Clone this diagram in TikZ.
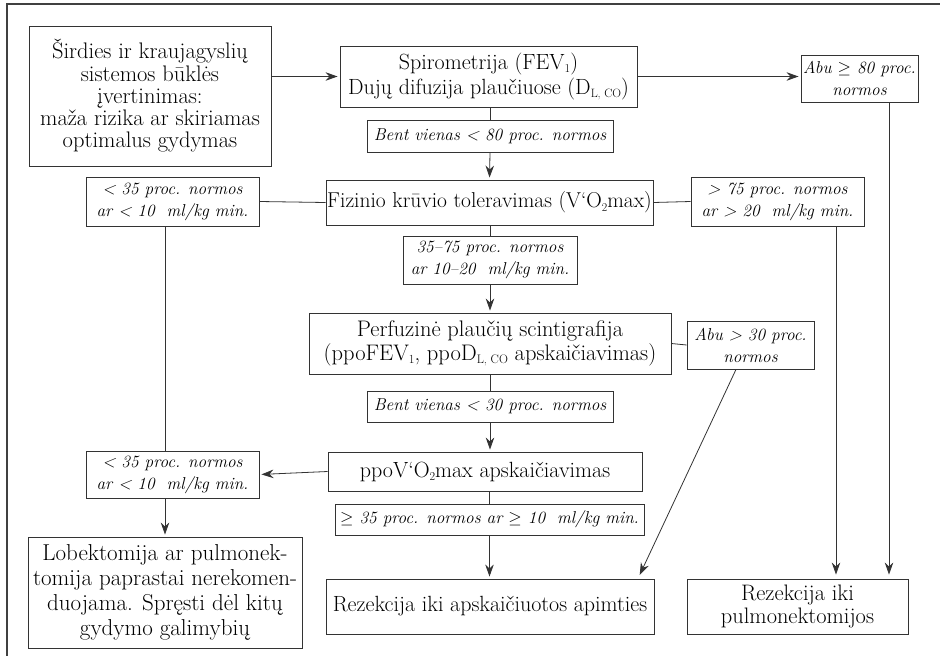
\documentclass[tikz,border=0pt]{standalone}
\usepackage{fontspec}
\usepackage{graphicx}
\setmainfont{Latin Modern Roman}
\usetikzlibrary{arrows.meta}
\newcommand\lsub[1]{\raisebox{-0.35ex}{\scalebox{0.55}{#1}}}
\begin{document}
\begin{tikzpicture}[x=1pt,y=-1pt,
  box/.style 2 args={draw=black!80, line width=0.9pt, inner sep=0pt, align=center,
     minimum width=#1pt, minimum height=#2pt, font=\fontsize{22}{23}\selectfont},
  lbl/.style 2 args={draw=black!80, line width=0.9pt, inner sep=0pt, align=center,
     minimum width=#1pt, minimum height=#2pt, font=\fontsize{17.2}{22}\selectfont\itshape},
  ln/.style={draw=black!80, line width=0.8pt},
  arr/.style={ln, -{Stealth[length=12pt,width=8.5pt]}, shorten >=2pt},
]
\useasboundingbox (0,0) rectangle (940,656);
\draw[draw=black!75, line width=1.2pt] (7,660) -- (7,4) -- (945,4);

\node[box={242}{140}, font=\fontsize{22.5}{22.3}\selectfont] (A) at (150,96) {Širdies ir kraujagyslių\\sistemos būklės\\įvertinimas:\\maža rizika ar skiriamas\\optimalus gydymas};
\node[box={297}{61}, font=\fontsize{22}{25}\selectfont] (B) at (488.5,76.5) {Spirometrija (FEV\lsub{1})\\Dujų difuzija plaučiuose (D\lsub{L, CO})};
\node[lbl={117}{47}] (abu80) at (859.5,78.5) {Abu $\geq$ 80 proc.\\normos};
\node[lbl={246}{32}] (L1) at (490,136) {Bent vienas < 80 proc. normos};
\node[box={327}{45}, font=\fontsize{21.5}{23}\selectfont] (C) at (489.5,202.5) {Fizinio krūvio toleravimas (V‘O\lsub{2}max)};
\node[lbl={173}{49}] (lt35a) at (172.5,201.5) {< 35 proc. normos\\ar < 10~~ml/kg min.};
\node[lbl={173}{49}] (gt75) at (777.5,201.5) {> 75 proc. normos\\ar > 20~~ml/kg min.};
\node[lbl={174}{48}] (L2) at (490,260) {35–75 proc. normos\\ar 10–20~~ml/kg min.};
\node[box={362}{61}, font=\fontsize{22.5}{24}\selectfont] (D) at (490,343.5) {Perfuzinė plaučių scintigrafija\\(ppoFEV\lsub{1}, ppoD\lsub{L, CO} apskaičiavimas)};
\node[lbl={127}{48}] (abu30) at (750.5,345) {Abu > 30 proc.\\normos};
\node[lbl={246}{31}] (L3) at (490,406.5) {Bent vienas < 30 proc. normos};
\node[box={314}{39}] (E) at (485,471.5) {ppoV‘O\lsub{2}max apskaičiavimas};
\node[lbl={173}{47}] (lt35b) at (172.5,474.5) {< 35 proc. normos\\ar < 10~~ml/kg min.};
\node[lbl={309}{31}] (L4) at (489.5,519.5) {$\geq$ 35 proc. normos ar $\geq$ 10~~ml/kg min.};
\node[box={328}{55}] (F) at (490,606.5) {Rezekcija iki apskaičiuotos apimties};
\node[box={221}{55}, font=\fontsize{22.4}{22.5}\selectfont] (G) at (797.5,606.5) {Rezekcija iki\\pulmonektomijos};
\node[box={274}{111}, font=\fontsize{23}{25}\selectfont] (lob) at (165,592.5) {Lobektomija ar pulmonek-\\tomija paprastai nerekomen-\\duojama. Spręsti dėl kitų\\gydymo galimybių};

\coordinate (g1) at (836,0);
\coordinate (g2) at (889,0);
\coordinate (f1) at (638,0);
\coordinate (a1) at (736,0);

\draw[arr] (A.east |- B.west) -- (B.west);
\draw[arr] (B.east) -- (B.east -| abu80.west);
\draw[ln] (L1.north |- B.south) -- (L1.north);
\draw[arr] (L1.south) -- (C.north);
\draw[ln] (C.west) -- (lt35a.east);
\draw[ln] (C.east) -- (gt75.west);
\draw[ln] (L2.north |- C.south) -- (L2.north);
\draw[arr] (L2.south) -- (L2.south |- D.north);
\draw[ln] (D.east) -- (abu30.west);
\draw[ln] (L3.north |- D.south) -- (L3.north);
\draw[arr] (L3.south) -- (L3.south |- E.north);
\draw[ln] (L4.north |- E.south) -- (L4.north);
\draw[arr] (L4.south) -- (L4.south |- F.north);
\draw[ln] (lob.north |- lt35a.south) -- (lob.north |- lt35b.north);
\draw[arr] (lob.north |- lt35b.south) -- (lob.north);
\draw[arr] (E.west) -- (lt35b.east);
\draw[arr, shorten >=4pt] (a1 |- abu30.south) -- (f1 |- F.north);
\draw[arr, shorten >=4pt] (g1 |- gt75.south) -- (g1 |- G.north);
\draw[arr, shorten >=4pt] (g2 |- abu80.south) -- (g2 |- G.north);
\end{tikzpicture}
\end{document}
